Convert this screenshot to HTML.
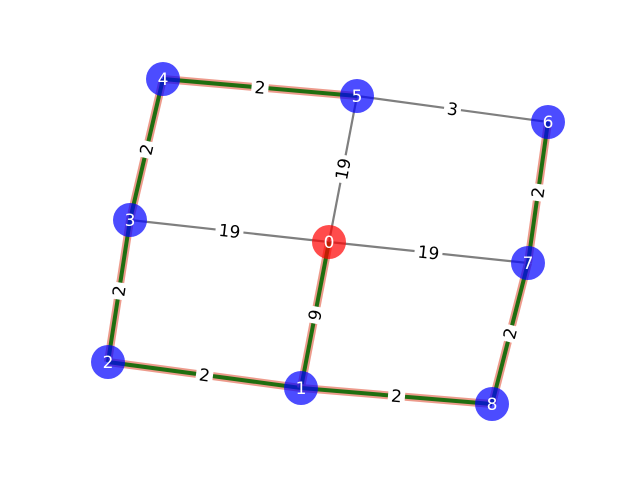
<!DOCTYPE html>
<html><head><meta charset="utf-8"><style>
html,body{margin:0;padding:0;background:#fff}
svg{display:block}
text{font-family:"DejaVu Sans","Liberation Sans",sans-serif}
</style></head><body>
<svg id="g" width="640" height="480" viewBox="0 0 640 480"></svg>
<script>
const nodeIds=[0,1,2,3,4,5,6,7,8];
const nodeX=[329,301,108,130,163,357,548,528,492];
const nodeY=[242,388,362,220,79,96,122,263,404];
const edgeFrom=[5,0,0,0,4,3,2,1,0,1,7,6];
const edgeTo=[6,3,5,7,5,4,3,2,1,8,8,7];
const edgeWeights=[3,19,19,19,2,2,2,2,9,2,2,2];
const edgeOnPath=[0,0,0,0,1,1,1,1,1,1,1,1];
const NS="http://www.w3.org/2000/svg";
const svg=document.getElementById('g');
function mk(t,a,p){const e=document.createElementNS(NS,t);for(const k in a)e.setAttribute(k,a[k]);(p||svg).appendChild(e);return e;}
for(let i=0;i<edgeFrom.length;i++){
  const a=edgeFrom[i],b=edgeTo[i];
  const x1=nodeX[a],y1=nodeY[a],x2=nodeX[b],y2=nodeY[b];
  if(edgeOnPath[i]){
    const r=mk('line',{x1,y1,x2,y2,stroke:'#e8826f','stroke-width':8,'stroke-opacity':0.8});
    
    
    const g=mk('line',{x1,y1,x2,y2,stroke:'#1f6e10','stroke-width':4});
    
    
  } else {
    const l=mk('line',{x1,y1,x2,y2,stroke:'#7f7f7f','stroke-width':2.2});
    
    
  }
}
for(let i=0;i<edgeFrom.length;i++){
  const a=edgeFrom[i],b=edgeTo[i];
  const mx=(nodeX[a]+nodeX[b])/2,my=(nodeY[a]+nodeY[b])/2;
  let ang=Math.atan2(nodeY[b]-nodeY[a],nodeX[b]-nodeX[a])*180/Math.PI;
  if(ang>90)ang-=180; if(ang<-90)ang+=180;
  const g=mk('g',{transform:`translate(${mx},${my}) rotate(${ang})`});
  
  
  const s=String(edgeWeights[i]);
  const w=s.length*11+6;
  mk('rect',{x:-w/2,y:-10,width:w,height:20,fill:'#fff'},g);
  const t=mk('text',{x:0,y:6,'text-anchor':'middle','font-size':17,fill:'#000'},g);
  t.textContent=s;
}
for(let i=0;i<nodeIds.length;i++){
  const c=mk('circle',{cx:nodeX[i],cy:nodeY[i],r:17,fill:nodeIds[i]===0?'#ff0000':'#0000ff','fill-opacity':0.7});
  
  
  const t=mk('text',{x:nodeX[i],y:nodeY[i]+6,'text-anchor':'middle','font-size':17,fill:'#fff'});
  
  
  t.textContent=nodeIds[i];
}
</script>
</body></html>
